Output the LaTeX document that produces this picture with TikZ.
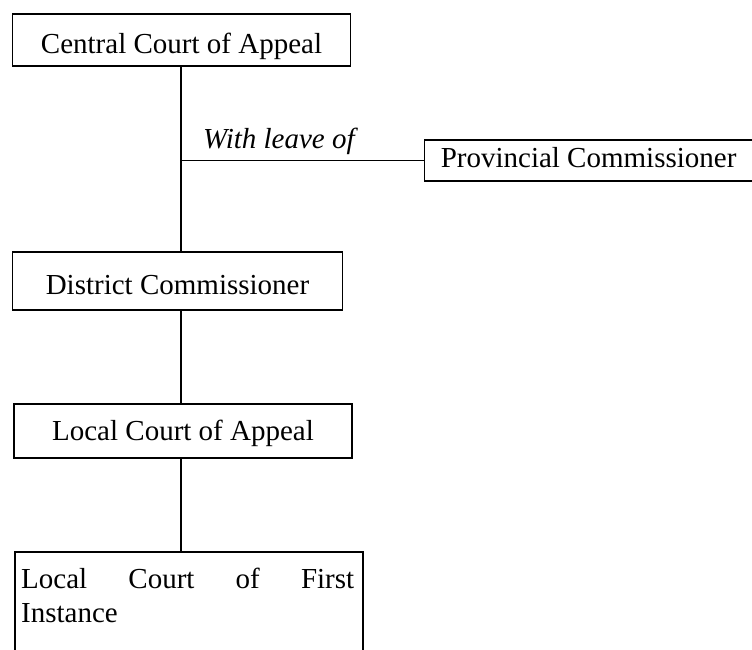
\documentclass[tikz,border=0pt]{standalone}
\usepackage{fontspec}
\setmainfont{Liberation Serif}
\begin{document}
\begin{tikzpicture}[x=1pt,y=-1pt,
  txt/.style={font=\fontsize{29}{34}\selectfont},
  box/.style={draw, line width=1.2pt, inner sep=0pt, txt},
  conn/.style={line width=1.2pt}]
\useasboundingbox (0,0) rectangle (752,649);
\clip (0,0) rectangle (752,649);
% boxes
\node[box, minimum width=338pt, minimum height=52pt, text height=30pt, text depth=4pt] (central) at (181.5,40) {Central Court of Appeal};
\node[box, minimum width=337pt, minimum height=41pt, text height=20pt, text depth=7pt, anchor=west] (prov) at (423.5,160.5) {\hspace*{-8pt}Provincial Commissioner};
\node[box, minimum width=330pt, minimum height=58pt, text height=30pt, text depth=4pt] (district) at (177.5,281) {District Commissioner};
\node[box, minimum width=338pt, minimum height=54pt, text height=24pt, text depth=6pt] (lca) at (183,431) {Local Court of Appeal};
% open-bottom box
\coordinate (fitl) at (15,552);
\coordinate (fitr) at (363,552);
\draw[conn] (fitl |- 0,665) -- (fitl) -- (fitr) -- (fitr |- 0,665);
\node[txt, inner sep=0pt, anchor=north west, align=left] (fi) at (21,568)
  {\makebox[333pt][s]{Local Court of First}\\Instance};
% connectors
\coordinate (vx) at (181,0);
\coordinate (fitop) at (181,552);
\draw[conn] (central.south -| vx) -- (district.north -| vx);
\draw[conn] (vx |- prov.west) -- (prov.west);
\draw[conn] (district.south -| vx) -- (lca.north -| vx);
\draw[conn] (lca.south -| vx) -- (fitop);
% label
\node[txt, inner sep=0pt, anchor=base west, font=\fontsize{29}{34}\selectfont\itshape] (leave) at (203,148) {With leave of};
\end{tikzpicture}
\end{document}
